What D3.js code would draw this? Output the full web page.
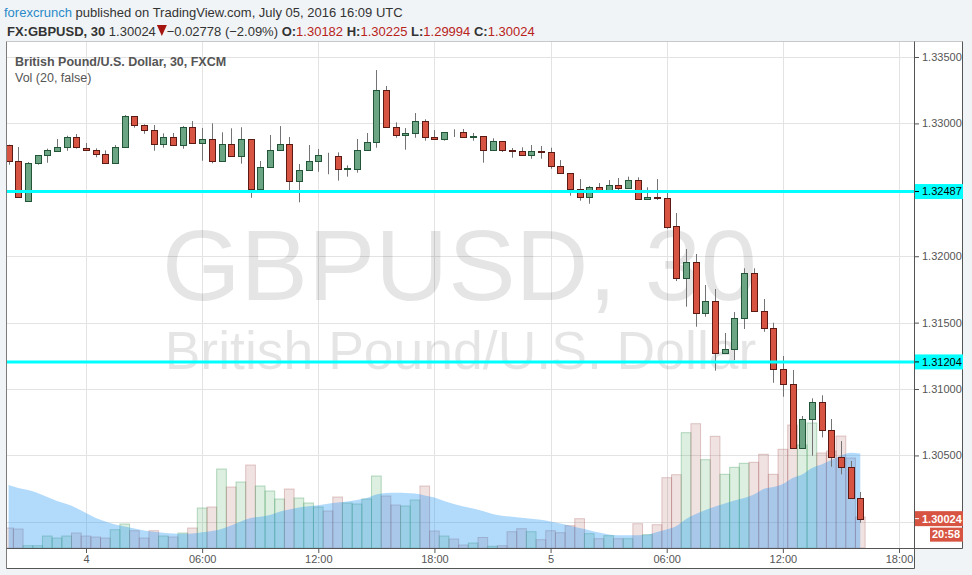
<!DOCTYPE html>
<html>
<head>
<meta charset="utf-8">
<script src="https://cdnjs.cloudflare.com/ajax/libs/d3/7.8.5/d3.min.js"></script>
<style>
  body { margin: 0; background: #f1f4f6; }
  svg { display: block; font-family: Arial, "Liberation Sans", sans-serif; }
</style>
</head>
<body>
<div id="chart"></div>
<script>
// GBPUSD 30 min bars, first visible bar 3 Jul 2016 20:00 UTC, one value per bar
const firstBar = Date.UTC(2016, 6, 3, 20, 0);
const opens = [1.32835,1.32715,1.32413,1.32700,1.32760,1.32794,1.32820,1.32895,1.32817,1.32797,
  1.32767,1.32700,1.32820,1.33053,1.32986,1.32948,1.32843,1.32898,1.32835,1.32971,
  1.32850,1.32880,1.32715,1.32843,1.32752,1.32880,1.32508,1.32670,1.32797,1.32843,
  1.32564,1.32647,1.32715,1.32757,1.32752,1.32656,1.32659,1.32797,1.32858,1.33249,
  1.32971,1.32910,1.32925,1.33016,1.32895,1.32880,1.32937,1.32933,1.32900,1.32905,
  1.32797,1.32865,1.32797,1.32790,1.32760,1.32790,1.32782,1.32677,1.32624,1.32504,
  1.32444,1.32519,1.32481,1.32534,1.32516,1.32572,1.32428,1.32443,1.32438,1.32225,
  1.31838,1.31954,1.31570,1.31660,1.31269,1.31301,1.31532,1.31871,1.31585,1.31457,
  1.31148,1.31035,1.30553,1.30772,1.30900,1.30689,1.30486,1.30410,1.30182];
const highs = [1.32840,1.32822,1.32709,1.32760,1.32810,1.32883,1.32907,1.32920,1.32852,1.32812,
  1.32797,1.32837,1.33063,1.33055,1.32993,1.32988,1.32925,1.32928,1.32980,1.33018,
  1.32965,1.33000,1.32933,1.32963,1.32971,1.32880,1.32717,1.32913,1.32980,1.32898,
  1.32694,1.32837,1.32807,1.32779,1.32782,1.32684,1.32883,1.32928,1.33402,1.33282,
  1.33008,1.32965,1.33078,1.33031,1.32950,1.32935,1.32956,1.32958,1.32928,1.32905,
  1.32888,1.32868,1.32815,1.32820,1.32837,1.32830,1.32817,1.32724,1.32624,1.32581,
  1.32529,1.32551,1.32574,1.32589,1.32599,1.32594,1.32519,1.32581,1.32483,1.32325,
  1.32054,1.32017,1.31783,1.31753,1.31422,1.31580,1.31909,1.31909,1.31678,1.31499,
  1.31249,1.31143,1.30797,1.30930,1.30953,1.30774,1.30608,1.30458,1.30225];
const lows = [1.32689,1.32445,1.32410,1.32689,1.32704,1.32790,1.32794,1.32810,1.32795,1.32745,
  1.32700,1.32700,1.32820,1.32968,1.32922,1.32794,1.32817,1.32835,1.32810,1.32850,
  1.32719,1.32700,1.32715,1.32752,1.32697,1.32440,1.32498,1.32670,1.32797,1.32498,
  1.32406,1.32647,1.32636,1.32617,1.32569,1.32599,1.32629,1.32797,1.32817,1.32971,
  1.32892,1.32802,1.32892,1.32870,1.32875,1.32870,1.32898,1.32900,1.32870,1.32704,
  1.32792,1.32785,1.32742,1.32760,1.32734,1.32734,1.32659,1.32620,1.32456,1.32418,
  1.32395,1.32478,1.32478,1.32498,1.32510,1.32425,1.32425,1.32423,1.32207,1.31813,
  1.31620,1.31469,1.31544,1.31138,1.31265,1.31218,1.31452,1.31585,1.31431,1.31047,
  1.30942,1.30550,1.30550,1.30498,1.30636,1.30415,1.30358,1.30175,1.29994];
const closes = [1.32715,1.32448,1.32702,1.32760,1.32797,1.32820,1.32895,1.32820,1.32797,1.32770,
  1.32700,1.32820,1.33053,1.32986,1.32948,1.32843,1.32898,1.32835,1.32971,1.32850,
  1.32880,1.32715,1.32843,1.32752,1.32880,1.32508,1.32670,1.32797,1.32843,1.32564,
  1.32647,1.32715,1.32760,1.32753,1.32654,1.32661,1.32797,1.32858,1.33249,1.32971,
  1.32910,1.32925,1.33016,1.32895,1.32880,1.32933,1.32933,1.32900,1.32905,1.32797,
  1.32865,1.32797,1.32792,1.32760,1.32790,1.32785,1.32677,1.32624,1.32504,1.32446,
  1.32519,1.32481,1.32534,1.32516,1.32572,1.32428,1.32443,1.32438,1.32222,1.31838,
  1.31954,1.31570,1.31660,1.31269,1.31301,1.31532,1.31871,1.31585,1.31457,1.31148,
  1.31035,1.30553,1.30772,1.30900,1.30689,1.30486,1.30410,1.30177,1.30024];
const volumes = [20,19,2.3,2.3,12,10,12,15,12,11,
  10,18.3,24,17.3,10,17.3,12,11,15,20,
  40,41,79,61,66,83,62,57,49,59,
  50,45,41,37,51,45,44,49,72,52,
  43,42,48,62,17,12,9,3,5,10.5,
  1.7,2.3,16.3,19.3,16.3,8.3,17.3,15.3,22.3,29.3,
  14.3,9.3,12.3,9.3,9.3,24.3,13.3,23.3,70.3,73.3,
  115.3,124.3,88.3,111.7,73.7,80.7,84.7,85.7,93.7,73.7,
  98.7,123,103,125,95,97,112,90,31];
// Vol (20) moving average
const volMA = [63,60,58,55,51,47,44,40,35,30,
  26.5,23.5,21.5,19.5,17.5,16.2,15.2,14.5,14.3,14.6,
  15.8,17,19,22.5,26.5,30,31.3,33,36.3,38.5,
  40.5,41.8,42.8,44.3,45.5,46.5,48,50,53.5,55,
  55.2,55,54.5,52.5,50.5,47,44,41.5,39.5,37,
  34,32.3,31.3,30.2,29.2,28.2,26.5,24.5,22.3,20,
  17.8,15.5,13.5,12.7,12.7,12.8,13.3,16,18.5,22,
  29,34,38,41.5,44.5,47.5,50,53.5,59,61,
  64,70,73.5,80,83.5,88,92.5,95.3,94.5];

const gridPrices = [1.335, 1.330, 1.325, 1.320, 1.315, 1.310, 1.305, 1.300];
const levels = [1.32487, 1.31204];
const lastPrice = 1.30024;
const countdown = "20:58";

const W = 972, H = 575;
const plot = {left: 7, right: 914, top: 42, bottom: 548};
const axisRight = 962, axisBottom = 568;

const svg = d3.select("#chart").append("svg")
    .attr("width", W).attr("height", H);

svg.append("rect").attr("width", W).attr("height", H).attr("fill", "#f1f4f6");
svg.append("rect")
    .attr("x", plot.left).attr("y", plot.top)
    .attr("width", axisRight - plot.left).attr("height", plot.bottom - plot.top)
    .attr("fill", "#fff");
svg.append("rect")
    .attr("x", plot.left).attr("y", plot.bottom)
    .attr("width", plot.right - plot.left).attr("height", axisBottom - plot.bottom)
    .attr("fill", "#fff");

// scales
const x = d3.scaleUtc()
    .domain([Date.UTC(2016, 6, 4, 0), Date.UTC(2016, 6, 5, 18)])
    .range([86, 899]);
const y = d3.scaleLinear().domain([1.29803, 1.33613]).range([plot.bottom, plot.top]);
const vol = d3.scaleLinear().domain([0, 130]).range([plot.bottom, plot.bottom - 130]);

const bars = opens.map((o, i) => ({
  t: new Date(firstBar + i * 30 * 60 * 1000),
  o: o, h: highs[i], l: lows[i], c: closes[i], v: volumes[i], ma: volMA[i]
}));
const step = x(new Date(firstBar + 30 * 60 * 1000)) - x(new Date(firstBar));
const timeTicks = x.ticks(d3.utcHour.every(6));

svg.append("clipPath").attr("id", "clip")
  .append("rect")
    .attr("x", plot.left).attr("y", plot.top)
    .attr("width", plot.right - plot.left).attr("height", plot.bottom - plot.top);

const pane = svg.append("g").attr("clip-path", "url(#clip)");

// grid
pane.selectAll(".vgrid").data(timeTicks).enter().append("line")
    .attr("x1", d => Math.round(x(d)) + 0.5).attr("x2", d => Math.round(x(d)) + 0.5)
    .attr("y1", plot.top).attr("y2", plot.bottom)
    .attr("stroke", "#e3e3e3");
pane.selectAll(".hgrid").data(gridPrices).enter().append("line")
    .attr("x1", plot.left).attr("x2", plot.right)
    .attr("y1", d => Math.round(y(d)) + 0.5).attr("y2", d => Math.round(y(d)) + 0.5)
    .attr("stroke", "#e3e3e3");

// watermark
const cx = (plot.left + plot.right) / 2;
pane.append("text")
    .attr("x", cx - 1).attr("y", 300)
    .attr("text-anchor", "middle")
    .style("font-size", "101px")
    .attr("fill", "#000").attr("fill-opacity", 0.1)
    .text("GBPUSD, 30");
pane.append("text")
    .attr("x", cx).attr("y", 369)
    .attr("text-anchor", "middle")
    .style("font-size", "53.5px")
    .attr("fill", "#000").attr("fill-opacity", 0.1)
    .text("British Pound/U.S. Dollar");

// volume columns
pane.selectAll(".vbar").data(bars).enter().append("rect")
    .attr("x", d => x(d.t) - step / 2)
    .attr("width", step)
    .attr("y", d => vol(d.v))
    .attr("height", d => plot.bottom - vol(d.v))
    .attr("fill", d => d.c >= d.o ? "rgba(80,175,100,0.2)" : "rgba(175,95,95,0.18)")
    .attr("stroke", d => d.c >= d.o ? "rgba(60,150,85,0.35)" : "rgba(160,80,80,0.3)");

// volume MA area
const maArea = d3.area()
    .x(d => x(d.t))
    .y0(plot.bottom)
    .y1(d => vol(d.ma))
    .curve(d3.curveMonotoneX);
pane.append("path").datum(bars)
    .attr("d", maArea)
    .attr("fill", "rgba(33,150,243,0.35)");

// candles
const candle = pane.selectAll(".candle").data(bars).enter().append("g");
candle.append("line")
    .attr("x1", d => Math.round(x(d.t)) + 0.5).attr("x2", d => Math.round(x(d.t)) + 0.5)
    .attr("y1", d => y(d.h)).attr("y2", d => y(d.l))
    .attr("stroke", "#737375");
candle.append("rect")
    .attr("x", d => Math.round(x(d.t)) - 3 + 0.5)
    .attr("width", 6)
    .attr("y", d => Math.round(y(Math.max(d.o, d.c))) + 0.5)
    .attr("height", d => Math.max(0, Math.round(y(Math.min(d.o, d.c))) - Math.round(y(Math.max(d.o, d.c)))))
    .attr("fill", d => d.c >= d.o ? "#6ba583" : "#d75442")
    .attr("stroke", d => d.c >= d.o ? "#225437" : "#5b1a13");

// horizontal levels
pane.selectAll(".level").data(levels).enter().append("line")
    .attr("x1", plot.left).attr("x2", plot.right)
    .attr("y1", d => y(d)).attr("y2", d => y(d))
    .attr("stroke", "#00ffff").attr("stroke-width", 3);

// frame
const frame = svg.append("g").attr("fill", "none");
frame.append("line").attr("x1", plot.left - 0.5).attr("x2", axisRight + 0.5)
    .attr("y1", plot.top - 0.5).attr("y2", plot.top - 0.5).attr("stroke", "#c8c8c8");
frame.append("line").attr("x1", plot.left - 0.5).attr("x2", plot.left - 0.5)
    .attr("y1", plot.top - 0.5).attr("y2", axisBottom + 0.5).attr("stroke", "#7d7d7d");
frame.append("line").attr("x1", plot.right + 0.5).attr("x2", plot.right + 0.5)
    .attr("y1", plot.top - 0.5).attr("y2", axisBottom + 0.5).attr("stroke", "#555");
frame.append("line").attr("x1", axisRight + 0.5).attr("x2", axisRight + 0.5)
    .attr("y1", plot.top - 0.5).attr("y2", plot.bottom + 0.5).attr("stroke", "#555");
frame.append("line").attr("x1", plot.left - 0.5).attr("x2", axisRight + 0.5)
    .attr("y1", plot.bottom + 0.5).attr("y2", plot.bottom + 0.5).attr("stroke", "#555");
frame.append("line").attr("x1", plot.left - 0.5).attr("x2", plot.right + 0.5)
    .attr("y1", axisBottom + 0.5).attr("y2", axisBottom + 0.5).attr("stroke", "#555");

// time axis
const fmtTime = d => (d.getUTCHours() === 0 && d.getUTCMinutes() === 0)
    ? String(d.getUTCDate()) : d3.utcFormat("%H:%M")(d);
const xAxis = svg.append("g")
    .attr("transform", `translate(0,${plot.bottom + 1})`)
    .call(d3.axisBottom(x).tickValues(timeTicks).tickFormat(fmtTime).tickSize(4).tickPadding(2));
xAxis.select(".domain").remove();
xAxis.selectAll("line").attr("stroke", "#555");
xAxis.selectAll("text").attr("fill", "#555").style("font-size", "11px")
    .style("font-family", "Arial, 'Liberation Sans', sans-serif");

// price axis, labels hidden where a marker label sits
const fmtPrice = d3.format(".5f");
const markers = levels.concat([lastPrice]);
const shownTicks = gridPrices.filter(p => markers.every(m => Math.abs(y(p) - y(m)) > 12));
const yAxis = svg.append("g")
    .attr("transform", `translate(${plot.right + 1},0)`)
    .call(d3.axisRight(y).tickValues(shownTicks).tickFormat(fmtPrice).tickSize(4).tickPadding(3));
yAxis.select(".domain").remove();
yAxis.selectAll("line").attr("stroke", "#555");
yAxis.selectAll("text").attr("fill", "#555").style("font-size", "11px")
    .style("font-family", "Arial, 'Liberation Sans', sans-serif");

// level labels
const lvl = svg.selectAll(".lvl").data(levels).enter().append("g")
    .attr("transform", d => `translate(${plot.right + 1},${y(d)})`);
lvl.append("rect").attr("x", 0).attr("y", -7.5).attr("width", axisRight - plot.right)
    .attr("height", 15).attr("fill", "#00ffff");
lvl.append("line").attr("x1", 0).attr("x2", 4).attr("stroke", "#000");
lvl.append("text").attr("x", 7).attr("dy", "0.35em")
    .style("font-size", "11px").attr("fill", "#000").text(d => fmtPrice(d));

// last price + countdown
const last = svg.append("g").attr("transform", `translate(${plot.right + 1},${y(lastPrice)})`);
last.append("rect").attr("x", 0).attr("y", -7.5).attr("width", axisRight - plot.right)
    .attr("height", 15).attr("fill", "#d75442");
last.append("line").attr("x1", 0).attr("x2", 4).attr("stroke", "#fff");
last.append("text").attr("x", 7).attr("dy", "0.35em")
    .style("font-size", "11px").style("font-weight", "bold").attr("fill", "#fff")
    .text(fmtPrice(lastPrice));
last.append("rect").attr("x", 15).attr("y", 9).attr("width", axisRight - plot.right - 15)
    .attr("height", 14).attr("fill", "#d75442");
last.append("text").attr("x", 31).attr("y", 16).attr("dy", "0.35em")
    .attr("text-anchor", "middle")
    .style("font-size", "11px").style("font-weight", "bold").attr("fill", "#fff")
    .text(countdown);

// legend inside pane
svg.append("text").attr("x", 15).attr("y", 62).attr("dy", "0.35em")
    .style("font-size", "12.5px").style("font-weight", "bold").attr("fill", "#555")
    .text("British Pound/U.S. Dollar, 30, FXCM");
svg.append("text").attr("x", 15).attr("y", 78).attr("dy", "0.35em")
    .style("font-size", "12.5px").attr("fill", "#555")
    .text("Vol (20, false)");

// header
const h1 = svg.append("text").attr("x", 4).attr("y", 12).attr("dy", "0.35em")
    .style("font-size", "13px");
h1.append("tspan").attr("fill", "#2a8ac9").text("forexcrunch");
h1.append("tspan").attr("fill", "#333").text(" published on TradingView.com, July 05, 2016 16:09 UTC");

const h2 = svg.append("text").attr("x", 7).attr("y", 31).attr("dy", "0.35em")
    .style("font-size", "13px").attr("fill", "#333");
h2.append("tspan").style("font-weight", "bold").text("FX:GBPUSD, 30");
h2.append("tspan").text("  1.30024");
const triSpan = h2.append("tspan").attr("fill", "none").text("\u00a0\u00a0\u00a0");
h2.append("tspan").text("\u22120.02778 (\u22122.09%)  ");
[["O:", "1.30182"], ["H:", "1.30225"], ["L:", "1.29994"], ["C:", "1.30024"]].forEach((p, i) => {
  h2.append("tspan").style("font-weight", "bold").text((i ? " " : "") + p[0]);
  h2.append("tspan").attr("fill", "#b8231b").text(p[1]);
});
// down triangle drawn in the gap
const tb = triSpan.node().getBBox();
svg.append("path")
    .attr("d", `M${tb.x + 1},${25} L${tb.x + 11},${25} L${tb.x + 6},${36} Z`)
    .attr("fill", "#a5140e");
</script>
</body>
</html>
